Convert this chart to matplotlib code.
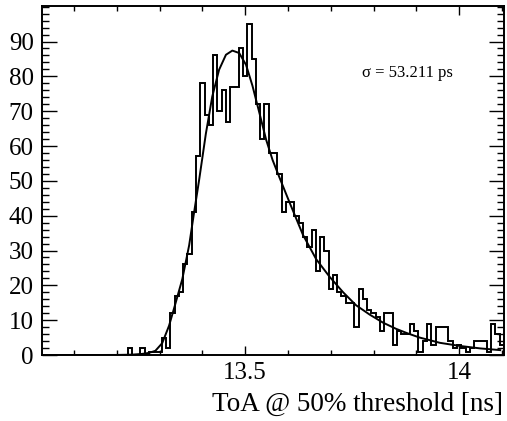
import numpy as np
import matplotlib.pyplot as plt
from matplotlib.ticker import MultipleLocator

plt.rcParams['font.family'] = ['Liberation Serif', 'DejaVu Serif']

# histogram: 108 bins of 0.01 ns starting at 13.025 ns
bin_lo = 13.025
bin_w = 0.01
counts = [0]*20 + [2, 0, 0, 2, 0, 1, 1, 1, 5, 2,
                   12, 17, 18, 26, 29, 41, 57, 78, 69, 66,
                   86, 70, 76, 67, 77, 77, 88, 80, 95, 85,
                   72, 62, 72, 58, 58, 52, 41, 44, 44, 40,
                   38, 34, 31, 36, 24, 34, 30, 19, 23, 18,
                   17, 15, 15, 8, 19, 16, 13, 12, 11, 7,
                   12, 12, 3, 7, 6, 6, 9, 7, 1, 4,
                   9, 3, 8, 8, 8, 4, 2, 3, 2, 1,
                   2, 4, 4, 4, 1, 9, 6, 3]
edges = bin_lo + bin_w*np.arange(len(counts)+1)

# fit curve
fit_x = [13.025, 13.15, 13.20, 13.235, 13.258, 13.275, 13.290, 13.306, 13.322,
         13.337, 13.353, 13.369, 13.380, 13.392, 13.408, 13.423, 13.439,
         13.455, 13.470, 13.486, 13.502, 13.517, 13.533, 13.549, 13.564,
         13.580, 13.603, 13.635, 13.666, 13.697, 13.729, 13.759, 13.791,
         13.822, 13.853, 13.880, 13.908, 13.955, 14.002, 14.049, 14.096]
fit_y = [0, 0, 0.02, 0.1, 0.3, 0.6, 1.2, 3.4, 8.4,
         14.8, 21.8, 31.5, 40.5, 50.0, 63.5, 74.2, 81.9,
         86.2, 87.4, 86.7, 83.3, 77.3, 69.6, 61.8, 56.0,
         51.0, 44.0, 34.5, 27.5, 22.5, 18.0, 14.3, 11.6,
         9.3, 7.5, 6.2, 5.0, 3.5, 2.6, 1.9, 1.4]

y_ticks = [0, 10, 20, 30, 40, 50, 60, 70, 80, 90]
x_ticks = [13.5, 14.0]
x_labels = ['13.5', '14']

fig = plt.figure(figsize=(5.07, 4.21), dpi=100)
ax = fig.add_axes([42/507, 66/421, 462/507, 349/421])

ax.stairs(counts, edges, color='black', lw=1.4, baseline=0)
ax.plot(fit_x, fit_y, color='black', lw=1.4)

ax.set_xlim(13.025, 14.105)
ax.set_ylim(0, 100.2)
ax.xaxis.set_minor_locator(MultipleLocator(0.1))
ax.yaxis.set_minor_locator(MultipleLocator(2))
ax.set_xticks(x_ticks)
ax.set_xticklabels(x_labels)
ax.set_yticks(y_ticks)

ax.tick_params(axis='both', which='both', direction='in', top=True, right=True,
               width=1.0, labelsize=18, colors='black')
ax.tick_params(axis='y', which='major', length=11, pad=6)
ax.tick_params(axis='y', which='minor', length=5)
ax.tick_params(axis='x', which='major', length=6.5, pad=5)
ax.tick_params(axis='x', which='minor', length=3.5)
for s in ax.spines.values():
    s.set_linewidth(1.4)

fig.text(362/507, (421-73)/421, 'σ = 53.211 ps', fontsize=12, va='center', ha='left')
fig.text(503/507, (421-411)/421, 'ToA @ 50% threshold [ns]', fontsize=19.5,
         ha='right', va='baseline')

fig.savefig('out.png', dpi=100)
